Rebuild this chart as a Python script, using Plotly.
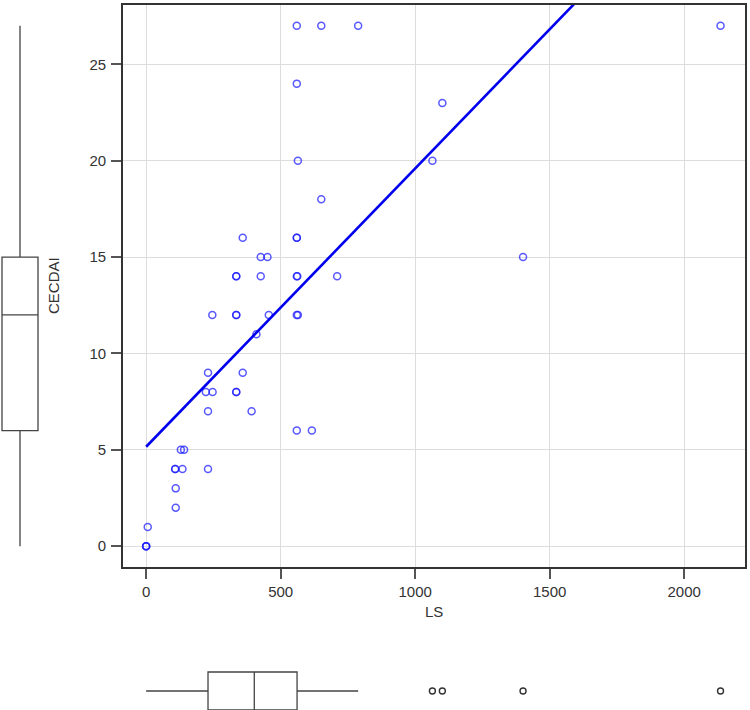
import numpy as np
import plotly.graph_objects as go

# ---- data ----
LS = [560, 651, 788, 2135, 560, 1101, 564, 1064, 651, 359,
      560, 560, 426, 451, 1401, 335, 335, 426, 560, 562,
      710, 246, 335, 335, 456, 560, 564, 410, 230, 359,
      222, 247, 335, 335, 230, 392, 560, 616, 129, 141,
      108, 108, 135, 230, 110, 110, 6, 0, 0, 0]
CECDAI = [27, 27, 27, 27, 24, 23, 20, 20, 18, 16,
          16, 16, 15, 15, 15, 14, 14, 14, 14, 14,
          14, 12, 12, 12, 12, 12, 12, 11, 9, 9,
          8, 8, 8, 8, 7, 7, 6, 6, 5, 5,
          4, 4, 4, 4, 3, 2, 1, 0, 0, 0]

# fitted regression line
FIT_INTERCEPT = 5.16
FIT_SLOPE = 0.01444

# marginal box statistics
CECDAI_BOX = dict(lowerfence=0, q1=6, median=12, q3=15, upperfence=27)
LS_BOX = dict(lowerfence=0, q1=230, median=402, q3=561, upperfence=788)

X_TICKS = [0, 500, 1000, 1500, 2000]
Y_TICKS = [0, 5, 10, 15, 20, 25]

# ---- layout geometry ----
W, H = 750, 710
PL, PR, PT, PB = 123, 745, 5, 567
xdom = [PL / W, PR / W]
ydom = [1 - PB / H, 1 - PT / H]
XR = [-86, 2226]
YR = [-1.08, 28.08]

FONT = "Liberation Sans, Arial, sans-serif"
TXT = "#333333"

fig = go.Figure()

fig.add_trace(go.Scatter(
    x=LS, y=CECDAI, mode="markers", xaxis="x", yaxis="y",
    marker=dict(symbol="circle-open", size=7, color="rgba(25,25,255,0.72)",
                line=dict(width=1.5, color="rgba(25,25,255,0.72)")),
    hoverinfo="x+y"))

fx = np.array([min(LS), max(LS)], dtype=float)
fig.add_trace(go.Scatter(
    x=fx, y=FIT_INTERCEPT + FIT_SLOPE * fx, mode="lines", xaxis="x", yaxis="y",
    line=dict(color="#0000ee", width=2.6), hoverinfo="skip"))

# left marginal box (CECDAI)
fig.add_trace(go.Box(
    x=[20], q1=[CECDAI_BOX["q1"]], median=[CECDAI_BOX["median"]], q3=[CECDAI_BOX["q3"]],
    lowerfence=[CECDAI_BOX["lowerfence"]], upperfence=[CECDAI_BOX["upperfence"]],
    width=36, xaxis="x2", yaxis="y2", boxpoints=False,
    fillcolor="white", line=dict(color="#444444", width=1.3), whiskerwidth=0))

# bottom marginal box (LS)
fig.add_trace(go.Box(
    y=[19], q1=[LS_BOX["q1"]], median=[LS_BOX["median"]], q3=[LS_BOX["q3"]],
    lowerfence=[LS_BOX["lowerfence"]], upperfence=[LS_BOX["upperfence"]],
    orientation="h", width=38, xaxis="x3", yaxis="y3", boxpoints=False,
    fillcolor="white", line=dict(color="#444444", width=1.3), whiskerwidth=0))

outl = [v for v in LS if v > LS_BOX["upperfence"]]
fig.add_trace(go.Scatter(
    x=outl, y=[19] * len(outl), mode="markers", xaxis="x3", yaxis="y3",
    marker=dict(symbol="circle-open", size=6, color="#333333", line=dict(width=1.4))))

axis_common = dict(showgrid=True, gridcolor="#dddddd", gridwidth=1, zeroline=False,
                   showline=True, linecolor="#333333", linewidth=1.6, mirror=True,
                   ticks="outside", ticklen=10, tickwidth=1.5, tickcolor="#555555",
                   tickfont=dict(family=FONT, size=15, color=TXT))

fig.update_layout(
    width=W, height=H, margin=dict(l=0, r=0, t=0, b=0),
    paper_bgcolor="white", plot_bgcolor="white", showlegend=False,
    xaxis=dict(domain=xdom, range=XR, anchor="y", tickvals=X_TICKS,
               ticklabelstandoff=0, **axis_common),
    yaxis=dict(domain=ydom, range=YR, anchor="x", tickvals=Y_TICKS,
               ticklabelstandoff=2, **axis_common),
    xaxis2=dict(domain=[0, 40 / W], range=[0, 40], anchor="y2", visible=False),
    yaxis2=dict(domain=ydom, range=YR, anchor="x2", visible=False),
    xaxis3=dict(domain=xdom, range=XR, anchor="y3", visible=False),
    yaxis3=dict(domain=[0, 60 / H], range=[0, 60], anchor="x3", visible=False),
    annotations=[
        dict(text="LS", x=(PL + PR) / 2 / W, y=1 - 611 / H, xref="paper", yref="paper",
             xanchor="center", yanchor="middle",
             showarrow=False, font=dict(family=FONT, size=15, color=TXT)),
        dict(text="CECDAI", x=53 / W, y=1 - (PT + PB) / 2 / H, xref="paper", yref="paper",
             xanchor="center", yanchor="middle",
             showarrow=False, textangle=-90, font=dict(family=FONT, size=15, color=TXT)),
    ],
)

fig.write_html("out.html")
